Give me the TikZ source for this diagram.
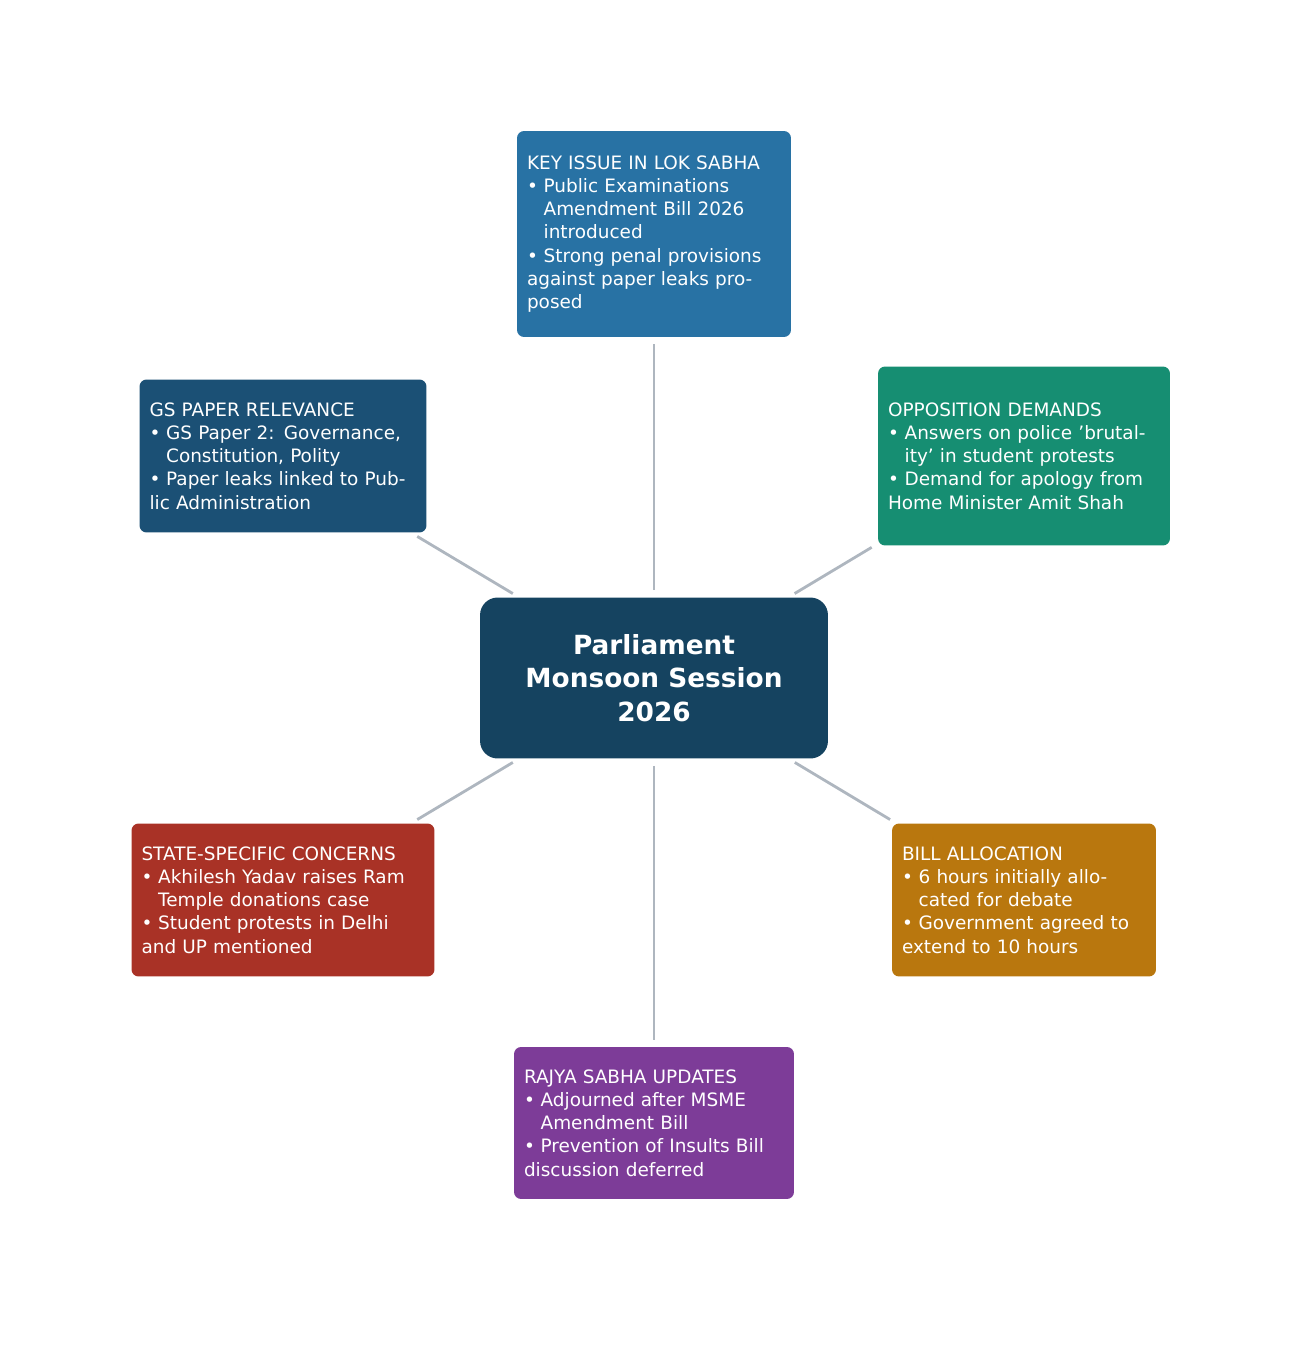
\documentclass[tikz,border=0pt]{standalone}
\usepackage{fontspec}
\setmainfont{DejaVu Sans}
\usetikzlibrary{positioning}
\definecolor{keyblue}{HTML}{2872A4}
\definecolor{oppgreen}{HTML}{168E72}
\definecolor{gsblue}{HTML}{1B5075}
\definecolor{statered}{HTML}{A93226}
\definecolor{billorange}{HTML}{B9770E}
\definecolor{rspurple}{HTML}{7D3C98}
\definecolor{hubblue}{HTML}{154360}
\definecolor{linkgray}{HTML}{AEB6BF}
\newcommand{\bitem}[1]{\par\hangindent=0.9em\hangafter=1\noindent\makebox[0.9em][l]{•}#1}
\tikzset{
  topic/.style={fill=#1, text=white, rounded corners=4pt, inner sep=0.2cm,
    align=left, font=\fontsize{10.5}{13.2}\selectfont},
  hub/.style={fill=hubblue, text=white, rounded corners=10pt, align=center,
    minimum width=6.96cm, minimum height=3.22cm,
    font=\bfseries\fontsize{15}{19}\selectfont},
  link/.style={draw=linkgray, line width=1.6pt, shorten <=4pt, shorten >=4pt}
}
\begin{document}
\begin{tikzpicture}[x=0.02cm,y=-0.02cm]
\useasboundingbox (0,0) rectangle (1308,1358);
\node (hub) [hub] at (654,678) {Parliament\\Monsoon Session\\2026};

\node (lok) [topic=keyblue, text width=5.08cm, minimum height=4.12cm] at (654,234) {KEY ISSUE IN LOK SABHA
  \bitem{Public Examinations Amendment Bill 2026 introduced}
  \bitem{Strong penal provisions against paper leaks proposed}};

\node (opp) [topic=oppgreen, text width=5.44cm, minimum height=3.58cm] at (1024,456) {OPPOSITION DEMANDS
  \bitem{Answers on police 'brutality' in student protests}
  \bitem{Demand for apology from Home Minister Amit Shah}};

\node (gs) [topic=gsblue, text width=5.34cm, minimum height=3.06cm] at (283,456) {GS PAPER RELEVANCE
  \bitem{GS Paper 2: Governance, Constitution, Polity}
  \bitem{Paper leaks linked to Public Administration}};

\node (state) [topic=statered, text width=5.66cm, minimum height=3.06cm] at (283,900) {STATE-SPECIFIC CONCERNS
  \bitem{Akhilesh Yadav raises Ram Temple donations case}
  \bitem{Student protests in Delhi and UP mentioned}};

\node (bill) [topic=billorange, text width=4.88cm, minimum height=3.06cm] at (1024,900) {BILL ALLOCATION
  \bitem{6 hours initially allocated for debate}
  \bitem{Government agreed to extend to 10 hours}};

\node (rajya) [topic=rspurple, text width=5.2cm, minimum height=3.04cm] at (654,1123) {RAJYA SABHA UPDATES
  \bitem{Adjourned after MSME Amendment Bill}
  \bitem{Prevention of Insults Bill discussion deferred}};

\foreach \t in {lok,opp,gs,state,bill,rajya}
  \draw[link] (hub) -- (\t);
\end{tikzpicture}
\end{document}
